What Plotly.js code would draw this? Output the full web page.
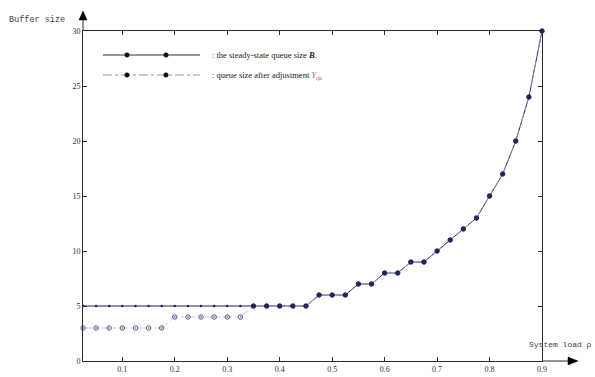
<!DOCTYPE html>
<html>
<head>
<meta charset="utf-8">
<script src="https://cdn.plot.ly/plotly-3.0.1.min.js"></script>
<style>html,body{margin:0;padding:0;background:#fff;}#chart{width:595px;height:377px;}</style>
</head>
<body>
<div id="chart"></div>
<script>
// ---- data ----
const systemLoad = [0.025,0.05,0.075,0.1,0.125,0.15,0.175,0.2,0.225,0.25,0.275,0.3,0.325,0.35,0.375,0.4,0.425,0.45,
                    0.475,0.5,0.525,0.55,0.575,0.6,0.625,0.65,0.675,0.7,0.725,0.75,0.775,0.8,0.825,0.85,0.875,0.9];
const steadyQueue = [5,5,5,5,5,5,5,5,5,5,5,5,5,5,5,5,5,5,
                     6,6,6,7,7,8,8,9,9,10,11,12,13,15,17,20,24,30];
const adjustedQueue = [3,3,3,3,3,3,3,4,4,4,4,4,4,5,5,5,5,5,
                       6,6,6,7,7,8,8,9,9,10,11,12,13,15,17,20,24,30];
const xTickVals = [0.1,0.2,0.3,0.4,0.5,0.6,0.7,0.8,0.9];
const xTickText = ['0.1','0.2','0.3','0.4','0.5','0.6','0.7','0.8','0.9'];
const yTickVals = [0,5,10,15,20,25,30];
const yTickText = ['0','5','10','15','20','25','30'];
const seriesNames = ['the steady-state queue size B', 'queue size after adjustment'];

// ---- layout helpers ----
const W = 595, H = 377, L = 83, R = 53, T = 31, B = 16;
const PW = W - L - R, PH = H - T - B;
const px = x => (x - L) / PW;
const py = y => (H - B - y) / PH;

const navy = '#22225e';
const axisCol = '#2b2b2b';

const symbols2 = adjustedQueue.map((v, i) => v === steadyQueue[i] ? 'circle' : 'circle-open-dot');
const colors2 = adjustedQueue.map((v, i) => v === steadyQueue[i] ? navy : '#5a5a86');

const traces = [
  {
    x: systemLoad, y: steadyQueue, name: seriesNames[0], type: 'scatter', mode: 'lines+markers',
    line: {color: navy, width: 1},
    marker: {size: 2.5, color: navy},
    cliponaxis: false, showlegend: false
  },
  {
    x: systemLoad, y: adjustedQueue, name: seriesNames[1], type: 'scatter', mode: 'lines+markers',
    line: {color: '#b0b0c8', width: 0.7, dash: 'dashdot'},
    marker: {size: 4.5, symbol: symbols2, color: colors2, line: {color: colors2, width: 1}},
    cliponaxis: false, showlegend: false
  }
];

const shapes = [
  // y-axis extension + arrow
  {type: 'line', xref: 'paper', yref: 'paper', x0: 0, x1: 0, y0: 1, y1: py(17), line: {color: axisCol, width: 1}},
  {type: 'path', xref: 'paper', yref: 'paper', fillcolor: '#000', line: {color: '#000', width: 0.5},
   path: `M ${px(L-4)} ${py(20)} L ${px(L+4)} ${py(20)} L ${px(L)} ${py(11)} Z`},
  // x-axis extension + arrow
  {type: 'line', xref: 'paper', yref: 'paper', x0: 1, x1: px(571), y0: 0, y1: 0, line: {color: axisCol, width: 1}},
  {type: 'path', xref: 'paper', yref: 'paper', fillcolor: '#000', line: {color: '#000', width: 0.5},
   path: `M ${px(568)} ${py(357)} L ${px(568)} ${py(365)} L ${px(578)} ${py(361)} Z`},
  // legend samples
  {type: 'line', xref: 'paper', yref: 'paper', x0: px(103), x1: px(200), y0: py(55), y1: py(55), line: {color: '#333', width: 1}},
  {type: 'line', xref: 'paper', yref: 'paper', x0: px(103), x1: px(200), y0: py(75), y1: py(75), line: {color: '#999', width: 1, dash: 'dashdot'}},
];
[127, 166].forEach(cx => {
  [55, 75].forEach(cy => {
    shapes.push({type: 'circle', xref: 'paper', yref: 'paper',
      x0: px(cx-2.3), x1: px(cx+2.3), y0: py(cy+2.3), y1: py(cy-2.3),
      fillcolor: '#111', line: {color: '#111', width: 0.5}});
  });
});

const annotations = [
  {text: 'Buffer size', xref: 'paper', yref: 'paper', x: px(7), y: py(20), xanchor: 'left', yanchor: 'middle',
   showarrow: false, font: {family: 'Liberation Mono, monospace', size: 8.5, color: '#444'}},
  {text: 'System load ρ', xref: 'paper', yref: 'paper', x: px(527), y: py(344), xanchor: 'left', yanchor: 'middle',
   showarrow: false, font: {family: 'Liberation Mono, monospace', size: 8, color: '#444'}},
  {text: ': the steady-state queue size <b><i>B</i></b>.', xref: 'paper', yref: 'paper', x: px(210), y: py(55),
   xanchor: 'left', yanchor: 'middle', showarrow: false, font: {family: 'Liberation Serif, serif', size: 8.5, color: '#222'}},
  {text: ': queue size after adjustment <span style="color:#b06080"><i>Y</i><sub>qk</sub></span>', xref: 'paper', yref: 'paper', x: px(210), y: py(75),
   xanchor: 'left', yanchor: 'middle', showarrow: false, font: {family: 'Liberation Serif, serif', size: 8.5, color: '#222'}}
];

const layout = {
  width: W, height: H,
  margin: {l: L, r: R, t: T, b: B, pad: 0},
  paper_bgcolor: '#fff', plot_bgcolor: '#fff',
  showlegend: false,
  xaxis: {
    range: [0.025, 0.9], tickvals: xTickVals, ticktext: xTickText,
    showgrid: false, zeroline: false, showline: true, mirror: 'ticks',
    linecolor: axisCol, linewidth: 1, ticks: 'inside', ticklen: 4, tickcolor: axisCol,
    tickfont: {family: 'Liberation Serif, serif', size: 8, color: '#333'}
  },
  yaxis: {
    range: [0, 30], tickvals: yTickVals, ticktext: yTickText,
    showgrid: false, zeroline: false, showline: true, mirror: 'ticks',
    linecolor: axisCol, linewidth: 1, ticks: 'inside', ticklen: 4, tickcolor: axisCol,
    tickfont: {family: 'Liberation Serif, serif', size: 8, color: '#333'}
  },
  shapes: shapes,
  annotations: annotations
};

Plotly.newPlot('chart', traces, layout, {displayModeBar: false, staticPlot: true});
</script>
</body>
</html>
